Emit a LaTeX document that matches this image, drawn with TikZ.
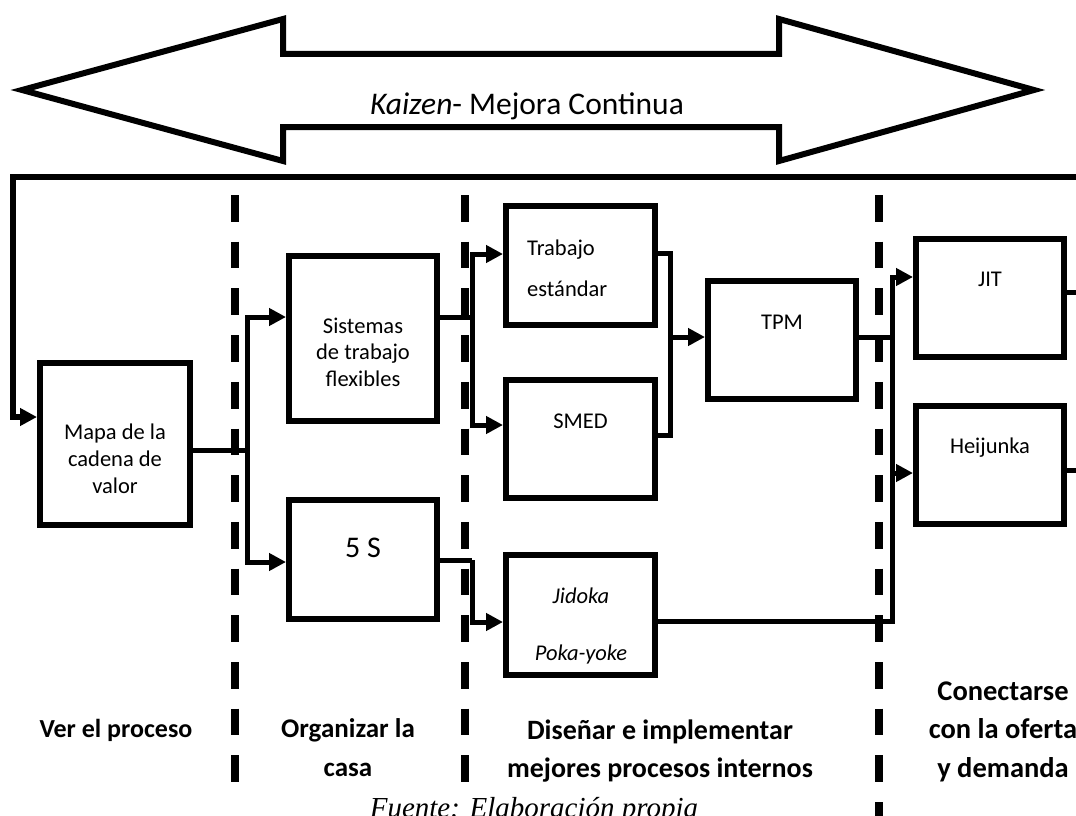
\documentclass[tikz,border=0pt]{standalone}
\usepackage{fontspec}
\setmainfont{Carlito}
\newfontfamily\fuente{Liberation Serif}
\usetikzlibrary{arrows.meta}
\begin{document}
\begin{tikzpicture}[x=1pt,y=-1pt,
  box/.style={draw, line width=6pt, rectangle, inner sep=0pt},
  txt/.style={inner sep=0pt, anchor=base, font=\fontsize{22.5}{27}\selectfont},
  lbl/.style={inner sep=0pt, anchor=base, font=\fontsize{26}{38}\selectfont\bfseries},
  conn/.style={line width=5pt},
  flecha/.style={conn, -{Triangle[length=17pt,width=17pt]}},
  divline/.style={line width=8pt, dash pattern=on 26.7pt off 20pt},
]
\useasboundingbox (0,0) rectangle (1076,816);
\clip (0,0) rectangle (1076,816);

% Kaizen double arrow
\draw[line width=6pt, line join=miter]
  (22,90) -- (283,19) -- (283,54) -- (779,54) -- (779,19) -- (1034,90)
  -- (779,161) -- (779,127) -- (283,127) -- (283,161) -- cycle;
\node[inner sep=0pt, anchor=base, font=\fontsize{31.5}{38}\selectfont] (kaizen) at (527,114)
  {\itshape Kaizen\upshape- Mejora Continua};

% stage dividers
\draw[divline] (235,195) -- (235,782);
\draw[divline] (465,195) -- (465,782);
\draw[divline] (879,195) -- (879,822);

% boxes
\node[box, minimum width=150pt, minimum height=162pt] (mapa)  at (115,444) {};
\node[box, minimum width=148pt, minimum height=165pt] (sis)   at (363,338.5) {};
\node[box, minimum width=148pt, minimum height=119pt] (cinco) at (363,559.5) {};
\node[box, minimum width=149pt, minimum height=119pt] (trab)  at (580.5,265.5) {};
\node[box, minimum width=149pt, minimum height=118pt] (smed)  at (580.5,439) {};
\node[box, minimum width=149pt, minimum height=120pt] (jid)   at (580.5,615) {};
\node[box, minimum width=148pt, minimum height=118pt] (tpm)   at (782,340) {};
\node[box, minimum width=148pt, minimum height=118pt] (jit)   at (990,298) {};
\node[box, minimum width=148pt, minimum height=118pt] (hei)   at (990,465) {};

% box texts
\node[txt] (mapa1) at (115,439) {Mapa de la};
\node[txt] (mapa2) at (115,466) {cadena de};
\node[txt] (mapa3) at (115,493) {valor};
\node[txt] (sis1) at (363,333) {Sistemas};
\node[txt] (sis2) at (363,359) {de trabajo};
\node[txt] (sis3) at (363,386) {flexibles};
\node[txt, font=\fontsize{30}{36}\selectfont] (cincoT) at (363,557) {5 S};
\node[txt, anchor=base west] (trab1) at (527,255) {Trabajo};
\node[txt, anchor=base west] (trab2) at (527,296) {estándar};
\node[txt] (smedT) at (580.5,428) {SMED};
\node[txt] (tpmT) at (782,329) {TPM};
\node[txt] (jitT) at (990,286) {JIT};
\node[txt] (heiT) at (990,453) {Heijunka};
\node[txt, font=\fontsize{22.5}{27}\selectfont\itshape] (jid1) at (581,603) {Jidoka};
\node[txt, font=\fontsize{22.5}{27}\selectfont\itshape] (jid2) at (581,660) {Poka-yoke};

% feedback loop
\coordinate (fbR) at (1080,177);
\coordinate (fbL) at (13,177);
\draw[flecha, line width=6pt] (fbR) -- (fbL) |- (mapa.west |- 0,417);

% ver el proceso -> organizar la casa
\coordinate (j1) at (247,450);
\draw[conn] (mapa.east |- j1) -- (j1);
\draw[flecha] (j1) |- (sis.west |- 0,317);
\draw[flecha] (j1) |- (cinco.west |- 0,562);

% organizar la casa -> procesos internos
\coordinate (j2a) at (472,317);
\coordinate (j2b) at (472,560);
\draw[conn] (sis.east |- j2a) -- (j2a);
\draw[conn] (cinco.east |- j2b) -- (j2b);
\draw[flecha] (j2a) |- (trab.west |- 0,254);
\draw[flecha] (j2a) |- (smed.west |- 0,425);
\draw[flecha] (j2b) |- (jid.west |- 0,622);

% trabajo estandar + SMED -> TPM
\coordinate (j3) at (670,337);
\draw[conn] (trab.east |- 0,253) -| (j3) |- (smed.east |- 0,435);
\draw[flecha] (j3) -- (tpm.west |- j3);

% TPM + Jidoka -> JIT / Heijunka
\coordinate (j4) at (892,337);
\coordinate (j4b) at (892,621);
\draw[conn] (tpm.east |- j4) -- (j4);
\draw[conn] (jid.east |- j4b) -| (j4);
\draw[flecha] (j4b) |- (jit.west |- 0,277);
\draw[flecha] (j4) |- (hei.west |- 0,473);

% outgoing lines
\coordinate (jitR) at (1080,292);
\coordinate (heiR) at (1080,470);
\draw[conn] (jit.east |- jitR) -- (jitR);
\draw[conn] (hei.east |- heiR) -- (heiR);

% stage labels
\node[lbl] (st1) at (116,737) {Ver el proceso};
\node[lbl, font=\fontsize{27}{38}\selectfont\bfseries] (st2a) at (348,737) {Organizar la};
\node[lbl, font=\fontsize{27}{38}\selectfont\bfseries] (st2b) at (348,776) {casa};
\node[lbl, font=\fontsize{28}{38}\selectfont\bfseries] (st3a) at (660,739) {Diseñar e implementar};
\node[lbl, font=\fontsize{28}{38}\selectfont\bfseries] (st3b) at (660,777) {mejores procesos internos};
\node[lbl, font=\fontsize{28.5}{38}\selectfont\bfseries] (st4a) at (1003,700) {Conectarse};
\node[lbl, font=\fontsize{28.5}{38}\selectfont\bfseries] (st4b) at (1003,738) {con la oferta};
\node[lbl, font=\fontsize{28.5}{38}\selectfont\bfseries] (st4c) at (1003,777) {y demanda};

% source
\node[inner sep=0pt, anchor=base, font=\fontsize{29}{34}\selectfont\fuente\itshape] (fuente)
  at (534,817) {Fuente: Elaboración propia};
\end{tikzpicture}
\end{document}
